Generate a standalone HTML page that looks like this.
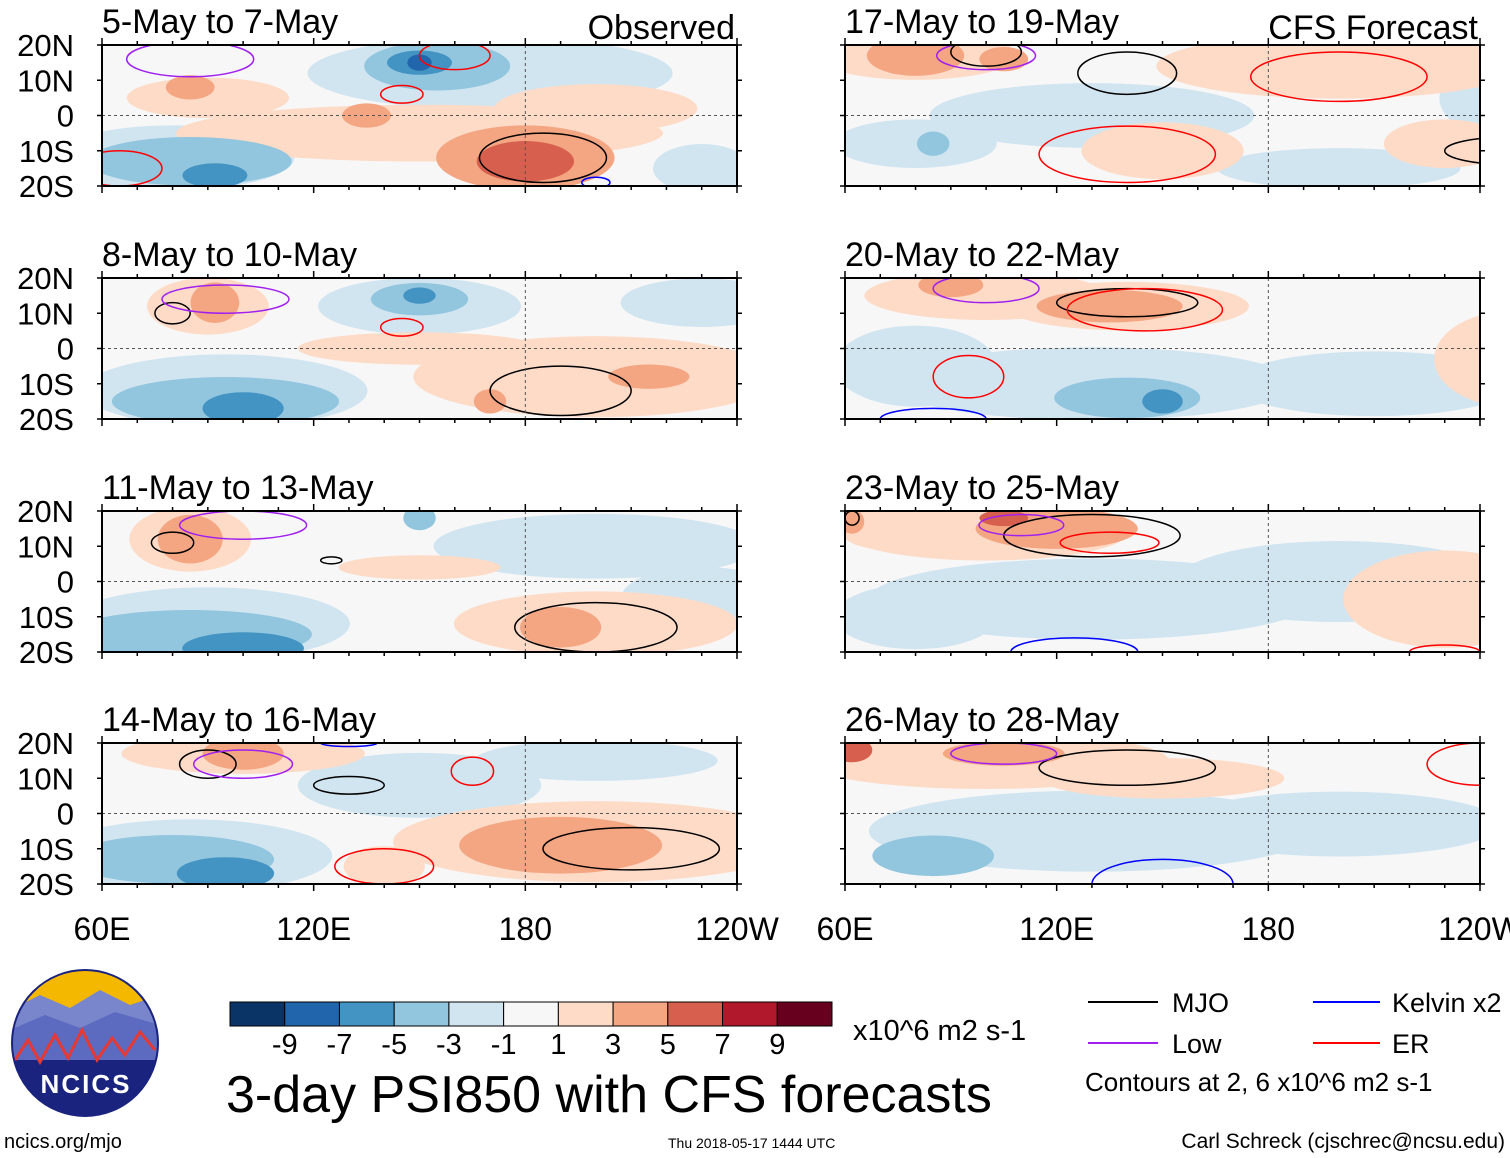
<!DOCTYPE html>
<html><head><meta charset="utf-8">
<style>
html,body{margin:0;padding:0;background:#fff;}
svg{display:block;font-family:"Liberation Sans",sans-serif;}
</style></head>
<body>
<svg id="fig" width="1510" height="1158" viewBox="0 0 1510 1158" xmlns="http://www.w3.org/2000/svg">
<defs id="defs"></defs>
<g id="panels"></g>
<g id="colorbar"></g>
<g id="legend">
 <line x1="1088" y1="1002" x2="1158" y2="1002" stroke="#000" stroke-width="2"/>
 <text x="1172" y="1012" font-size="27">MJO</text>
 <line x1="1313" y1="1002" x2="1380" y2="1002" stroke="#0000ff" stroke-width="2"/>
 <text x="1392" y="1012" font-size="27">Kelvin x2</text>
 <line x1="1088" y1="1043" x2="1158" y2="1043" stroke="#a020f0" stroke-width="2"/>
 <text x="1172" y="1053" font-size="27">Low</text>
 <line x1="1313" y1="1043" x2="1380" y2="1043" stroke="#ff0000" stroke-width="2"/>
 <text x="1392" y="1053" font-size="27">ER</text>
 <text x="1085" y="1091" font-size="26">Contours at 2, 6 x10^6 m2 s-1</text>
</g>
<g>
 <clipPath id="logoclip"><circle cx="85" cy="1043" r="73"/></clipPath>
 <g clip-path="url(#logoclip)">
  <rect x="10" y="968" width="150" height="150" fill="#1a237e"/>
  <rect x="10" y="968" width="150" height="45" fill="#f5b800"/>
  <path d="M10 1010 L40 995 L70 1008 L100 990 L130 1005 L160 995 L160 1040 L10 1040Z" fill="#7986cb"/>
  <path d="M10 1030 L45 1015 L80 1028 L115 1012 L160 1025 L160 1060 L10 1060Z" fill="#5c6bc0"/>
  <path d="M15 1060 L28 1040 L40 1062 L55 1035 L68 1058 L82 1030 L97 1060 L112 1038 L125 1055 L140 1032 L155 1050" fill="none" stroke="#e53935" stroke-width="3"/>
 </g>
 <circle cx="85" cy="1043" r="73" fill="none" stroke="#1a237e" stroke-width="2"/>
 <text x="86" y="1093" font-size="26" font-weight="bold" fill="#fff" text-anchor="middle" letter-spacing="2">NCICS</text>
</g>
<text x="226" y="1112" font-size="52">3-day PSI850 with CFS forecasts</text>
<text x="853" y="1040" font-size="29">x10^6 m2 s-1</text>
<text x="4" y="1148" font-size="20">ncics.org/mjo</text>
<text x="668" y="1148" font-size="14">Thu 2018-05-17 1444 UTC</text>
<text x="1505" y="1148" font-size="21" text-anchor="end">Carl Schreck (cjschrec@ncsu.edu)</text>
</svg>
<script>
// ----- data -----
const levels = [-9,-7,-5,-3,-1,1,3,5,7,9];
const levelColors = ["#0a3466","#2166ac","#4393c3","#92c5de","#d1e5f0","#f7f7f7","#fddbc7","#f4a582","#d6604d","#b2182b","#67001f"];
const lonTicks = ["60E","120E","180","120W"];
const latTicks = ["20N","10N","0","10S","20S"];
const panelTitles = ["5-May to 7-May","8-May to 10-May","11-May to 13-May","14-May to 16-May","17-May to 19-May","20-May to 22-May","23-May to 25-May","26-May to 28-May"];
// anomaly blobs: [lon, lat, lonRadius, latRadius, value]
const p1Blobs=[[170,12,45,9,-2],[80,-12,30,8,-2],[230,-15,12,6,-2],[155,14,18,6,-4],[150,15,8,3,-6],[150,15,3,2,-8],[85,-13,25,6,-4],[92,-17,8,3,-6],[150,-5,60,7,2],[90,5,20,5,2],[200,2,25,6,2],[180,-12,22,8,4],[180,-13,12,5,6],[85,8,6,3,4],[135,0,6,3,4]];
const p2Blobs=[[95,-12,35,9,-2],[150,12,25,7,-2],[230,13,20,6,-2],[95,-15,28,6,-4],[100,-17,10,4,-6],[150,14,12,4,-4],[150,15,4,2,-6],[200,-8,45,10,2],[90,12,15,7,2],[150,0,30,4,2],[92,13,6,5,4],[215,-8,10,3,4],[170,-15,4,3,4]];
const p3Blobs=[[90,-12,35,9,-2],[200,10,40,8,-2],[230,-5,20,8,-2],[85,-15,30,6,-4],[100,-19,15,4,-6],[150,18,4,3,-4],[200,-12,35,8,2],[85,12,15,8,2],[150,4,20,3,2],[85,12,8,6,4],[190,-13,10,5,4]];
const p4Blobs=[[85,-12,35,9,-2],[150,8,30,8,-2],[200,15,30,5,-2],[80,-13,25,6,-4],[95,-17,12,4,-5],[200,-8,50,10,2],[100,17,30,5,2],[140,-15,10,5,2],[190,-9,25,7,4],[100,17,10,4,4]];
const p5Blobs=[[130,0,40,8,-2],[80,-8,20,6,-2],[200,-15,30,5,-2],[240,5,10,8,-2],[85,-8,4,3,-4],[255,-5,6,4,-4],[80,17,25,6,2],[200,14,45,8,2],[150,-10,20,7,2],[230,-8,15,6,2],[80,17,12,5,4],[105,16,6,3,5]];
const p6Blobs=[[130,-10,50,9,-2],[80,-5,20,10,-2],[210,-10,35,8,-2],[140,-14,18,5,-4],[150,-15,5,3,-6],[100,15,30,6,2],[140,12,30,6,2],[250,-3,20,12,2],[135,12,18,4,4],[90,18,8,3,4]];
const p7Blobs=[[130,-5,55,10,-2],[200,0,40,10,-2],[80,-10,20,8,-2],[100,14,35,7,2],[230,-5,25,12,2],[70,15,10,5,2],[120,15,20,5,4],[105,18,6,2,6],[62,17,3,3,5]];
const p8Blobs=[[130,-5,55,10,-2],[85,-12,15,5,-3],[200,-3,40,8,-2],[100,15,45,7,2],[150,10,30,5,2],[62,16,5,5,2],[62,18,5,3,6],[105,17,15,3,4]];
// contours: [lon, lat, lonRadius, latRadius, type]
const p1Cont=[[185,-12,18,7,"mjo"],[85,16,18,5,"low"],[145,6,6,2.5,"er"],[160,17,10,4,"er"],[65,-15,12,5,"er"],[200,-19,4,1.5,"kelvin"]];
const p2Cont=[[80,10,5,3,"mjo"],[190,-12,20,7,"mjo"],[95,14,18,4,"low"],[145,6,6,2.5,"er"]];
const p3Cont=[[200,-13,23,7,"mjo"],[80,11,6,3,"mjo"],[125,6,3,1,"mjo"],[100,16,18,4,"low"]];
const p4Cont=[[90,14,8,4,"mjo"],[130,8,10,2.5,"mjo"],[210,-10,25,6,"mjo"],[100,14,14,4,"low"],[140,-15,14,5,"er"],[165,12,6,4,"er"],[130,20,8,1,"kelvin"]];
const p5Cont=[[140,12,14,6,"mjo"],[250,-10,20,4,"mjo"],[100,18,10,4,"mjo"],[100,17,14,4,"low"],[200,11,25,7,"er"],[140,-11,25,8,"er"]];
const p6Cont=[[140,13,20,4,"mjo"],[100,17,15,4,"low"],[145,11,22,6,"er"],[95,-8,10,6,"er"],[85,-20,15,3,"kelvin"]];
const p7Cont=[[130,13,25,6,"mjo"],[62,18,2,2,"mjo"],[110,16,12,3,"low"],[135,11,14,3,"er"],[230,-20,10,2,"er"],[125,-20,18,4,"kelvin"]];
const p8Cont=[[140,13,25,5,"mjo"],[105,17,15,3,"low"],[150,-20,20,7,"kelvin"],[240,14,15,6,"er"]];
const allBlobs=[p1Blobs,p2Blobs,p3Blobs,p4Blobs,p5Blobs,p6Blobs,p7Blobs,p8Blobs];
const allConts=[p1Cont,p2Cont,p3Cont,p4Cont,p5Cont,p6Cont,p7Cont,p8Cont];

// ----- drawing -----
const NS="http://www.w3.org/2000/svg";
const gP=document.getElementById('panels');
const defs=document.getElementById('defs');
const PW=635, PH=141;
const colX=[102,845], rowY=[45,278,511,743];
const contColor={mjo:"#000",low:"#a020f0",er:"#ff0000",kelvin:"#0000ff"};
function mk(tag,attrs,parent){const e=document.createElementNS(NS,tag);for(const k in attrs)e.setAttribute(k,attrs[k]);parent.appendChild(e);return e;}
function colorFor(v){let i=0;while(i<levels.length&&v>levels[i])i++;return levelColors[i];}

for(let p=0;p<8;p++){
  const ox=colX[p<4?0:1], oy=rowY[p%4];
  const xS=lon=>ox+(lon-60)/180*PW;
  const yS=lat=>oy+(20-lat)/40*PH;
  const sx=PW/180*1.15, sy=PH/40*1.15;
  const g=mk('g',{},gP);
  
  
  const cp=mk('clipPath',{id:'clip'+p},defs);
  mk('rect',{x:ox,y:oy,width:PW,height:PH},cp);
  const inner=mk('g',{'clip-path':'url(#clip'+p+')'},g);
  mk('rect',{x:ox,y:oy,width:PW,height:PH,fill:'#f7f7f7'},inner);
  const blobs=allBlobs[p].slice().sort((a,b)=>Math.abs(a[4])-Math.abs(b[4]));
  blobs.forEach(b=>{
    const e=mk('ellipse',{cx:xS(b[0]),cy:yS(b[1]),rx:b[2]*sx,ry:b[3]*sy,fill:colorFor(b[4])},inner);
    
    
  });
  allConts[p].forEach(c=>{
    const e=mk('ellipse',{cx:xS(c[0]),cy:yS(c[1]),rx:c[2]*PW/180,ry:c[3]*PH/40,fill:'none',stroke:contColor[c[4]],'stroke-width':1.5},inner);
    
    
  });
  mk('line',{x1:ox,y1:yS(0),x2:ox+PW,y2:yS(0),stroke:'#555','stroke-dasharray':'3,3','stroke-width':1},inner);
  mk('line',{x1:xS(180),y1:oy,x2:xS(180),y2:oy+PH,stroke:'#555','stroke-dasharray':'3,3','stroke-width':1},inner);
  mk('rect',{x:ox,y:oy,width:PW,height:PH,fill:'none',stroke:'#000','stroke-width':2},g);
  for(let lon=60;lon<=240;lon+=10){
    const L=(lon%60===0)?7:4;
    mk('line',{x1:xS(lon),y1:oy,x2:xS(lon),y2:oy-L,stroke:'#000','stroke-width':1.5},g);
    mk('line',{x1:xS(lon),y1:oy+PH,x2:xS(lon),y2:oy+PH+L,stroke:'#000','stroke-width':1.5},g);
  }
  for(let lat=-20;lat<=20;lat+=10){
    mk('line',{x1:ox-5,y1:yS(lat),x2:ox,y2:yS(lat),stroke:'#000','stroke-width':1.5},g);
    mk('line',{x1:ox+PW,y1:yS(lat),x2:ox+PW+5,y2:yS(lat),stroke:'#000','stroke-width':1.5},g);
  }
  const t=mk('text',{x:ox,y:oy-12,'font-size':34},g);
  t.textContent=panelTitles[p];
  
  
  if(p===0){const o=mk('text',{x:ox+PW-2,y:oy-6,'font-size':34,'text-anchor':'end'},g);o.textContent='Observed';}
  if(p===4){const o=mk('text',{x:ox+PW-2,y:oy-6,'font-size':34,'text-anchor':'end'},g);o.textContent='CFS Forecast';}
  if(p<4){
    latTicks.forEach((s,i)=>{
      const tt=mk('text',{x:74,y:yS(20-i*10)+11,'font-size':31,'text-anchor':'end'},g);
      tt.textContent=s;
      
      
    });
  }
  if(p%4===3){
    lonTicks.forEach((s,i)=>{
      const tt=mk('text',{x:xS(60+i*60),y:940,'font-size':32,'text-anchor':'middle'},g);
      tt.textContent=s;
      
      
    });
  }
}
// colorbar
const cb=document.getElementById('colorbar');
const cbX=230, cbW=602, cbY=1002, cbH=24, bw=cbW/levelColors.length;
levelColors.forEach((c,i)=>{
  const r=mk('rect',{x:cbX+i*bw,y:cbY,width:bw,height:cbH,fill:c,stroke:'#000','stroke-width':1},cb);
  
  
});
levels.forEach((v,i)=>{
  const t=mk('text',{x:cbX+(i+1)*bw,y:1054,'font-size':29,'text-anchor':'middle'},cb);
  t.textContent=String(v);
  
  
});
</script>
</body></html>
